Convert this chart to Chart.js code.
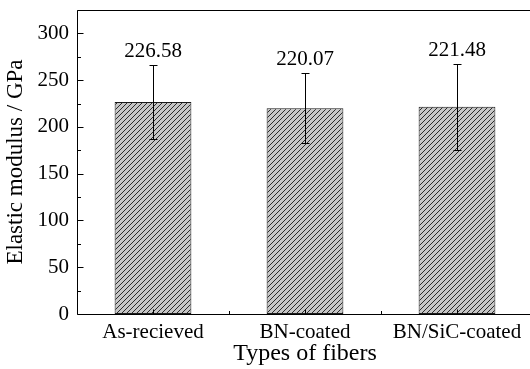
<!DOCTYPE html>
<html>
<head>
<meta charset="utf-8">
<script src="https://cdn.jsdelivr.net/npm/chart.js@4/dist/chart.umd.min.js"></script>
<style>
  html, body { margin: 0; padding: 0; background: #fff; overflow: hidden; }
  #wrap { width: 540px; height: 369px; }
</style>
</head>
<body>
<div id="wrap"><canvas id="c" width="540" height="369"></canvas></div>
<script>
// Elastic modulus of the fibre types, with standard deviations
const categories = ['As-recieved', 'BN-coated', 'BN/SiC-coated'];
const modulus = [226.58, 220.07, 221.48];
const deviation = [40, 37.5, 45.8];
const yTickValues = [0, 50, 100, 150, 200, 250, 300];

const FONT = "'Liberation Serif', 'Times New Roman', serif";

// Grey fill with thin diagonal hatching
function hatchPattern() {
  const s = 5;
  const p = document.createElement('canvas');
  p.width = s; p.height = s;
  const g = p.getContext('2d');
  g.fillStyle = '#c6c6c6';
  g.fillRect(0, 0, s, s);
  g.strokeStyle = '#2a2a2a';
  g.lineWidth = 1;
  g.beginPath();
  g.moveTo(-1, s + 1); g.lineTo(s + 1, -1);
  g.moveTo(-1, 1); g.lineTo(1, -1);
  g.moveTo(s - 1, s + 1); g.lineTo(s + 1, s - 1);
  g.stroke();
  return g.createPattern(p, 'repeat');
}

// Frame, inward ticks, error bars and value labels
const decorations = {
  id: 'decorations',
  afterDatasetsDraw(chart) {
    const ctx = chart.ctx;
    const area = chart.chartArea;
    const x = chart.scales.x, y = chart.scales.y;
    const meta = chart.getDatasetMeta(0);
    ctx.save();
    ctx.strokeStyle = '#000';
    ctx.lineWidth = 1;

    // error bars
    meta.data.forEach((bar, i) => {
      const bx = Math.round(bar.x) + 0.5;
      const top = Math.round(y.getPixelForValue(modulus[i] + deviation[i])) + 0.5;
      const bot = Math.round(y.getPixelForValue(modulus[i] - deviation[i])) + 0.5;
      ctx.beginPath();
      ctx.moveTo(bx, top); ctx.lineTo(bx, bot);
      ctx.moveTo(bx - 4, top); ctx.lineTo(bx + 4, top);
      ctx.moveTo(bx - 4, bot); ctx.lineTo(bx + 4, bot);
      ctx.stroke();
    });

    // frame
    const L = Math.round(area.left) + 0.5, R = Math.round(area.right) - 0.5;
    const T = Math.round(area.top) + 0.5, B = Math.round(area.bottom) + 0.5;
    ctx.beginPath();
    ctx.moveTo(L, B); ctx.lineTo(L, T); ctx.lineTo(R, T); ctx.lineTo(R, B); ctx.lineTo(L, B);
    ctx.stroke();

    // y ticks, major every 50 and minor in between
    ctx.beginPath();
    for (let v = 0; v <= 325; v += 25) {
      const py = Math.round(y.getPixelForValue(v)) + 0.5;
      const len = v % 50 === 0 ? 6 : 3.5;
      ctx.moveTo(L, py); ctx.lineTo(L + len, py);
    }
    // x ticks at categories and between them
    for (let i = 0; i < categories.length; i++) {
      const cx = Math.round(x.getPixelForValue(i)) + 0.5;
      ctx.moveTo(cx, B); ctx.lineTo(cx, B - 5);
      if (i > 0) {
        const mx = Math.round((x.getPixelForValue(i) + x.getPixelForValue(i - 1)) / 2) + 0.5;
        ctx.moveTo(mx, B); ctx.lineTo(mx, B - 3.5);
      }
    }
    ctx.stroke();

    // value labels above the error bars
    ctx.fillStyle = '#000';
    ctx.font = '21px ' + FONT;
    ctx.textAlign = 'center';
    ctx.textBaseline = 'alphabetic';
    meta.data.forEach((bar, i) => {
      const top = y.getPixelForValue(modulus[i] + deviation[i]);
      ctx.fillText(modulus[i].toFixed(2), bar.x, top - 8);
    });
    ctx.restore();
  }
};

new Chart(document.getElementById('c'), {
  type: 'bar',
  data: {
    labels: categories,
    datasets: [{
      data: modulus,
      backgroundColor: hatchPattern(),
      borderColor: '#1a1a1a',
      borderWidth: 1,
      borderSkipped: false,
      categoryPercentage: 1,
      barPercentage: 0.505
    }]
  },
  options: {
    responsive: false,
    animation: false,
    events: [],
    layout: { padding: { top: 10, right: 7, left: 0, bottom: 0 } },
    plugins: { legend: { display: false }, tooltip: { enabled: false } },
    scales: {
      x: {
        grid: { display: false, drawTicks: false },
        border: { display: false },
        ticks: { color: '#000', font: { family: FONT, size: 21 }, padding: 6, maxRotation: 0 },
        title: { display: true, text: 'Types of fibers', color: '#000', font: { family: FONT, size: 24 }, padding: { top: 0, bottom: 1 } },
        afterFit(scale) { scale.height = 55; }
      },
      y: {
        min: 0,
        max: 325,
        grid: { display: false, drawTicks: false },
        border: { display: false },
        afterBuildTicks(scale) { scale.ticks = yTickValues.map(v => ({ value: v })); },
        ticks: { color: '#000', font: { family: FONT, size: 21, lineHeight: 0.1 }, padding: 8 },
        title: { display: true, text: 'Elastic modulus / GPa', color: '#000', font: { family: FONT, size: 23 }, padding: { top: 2, bottom: 0 } },
        afterFit(scale) { scale.width = 77; }
      }
    }
  },
  plugins: [decorations]
});
</script>
</body>
</html>
